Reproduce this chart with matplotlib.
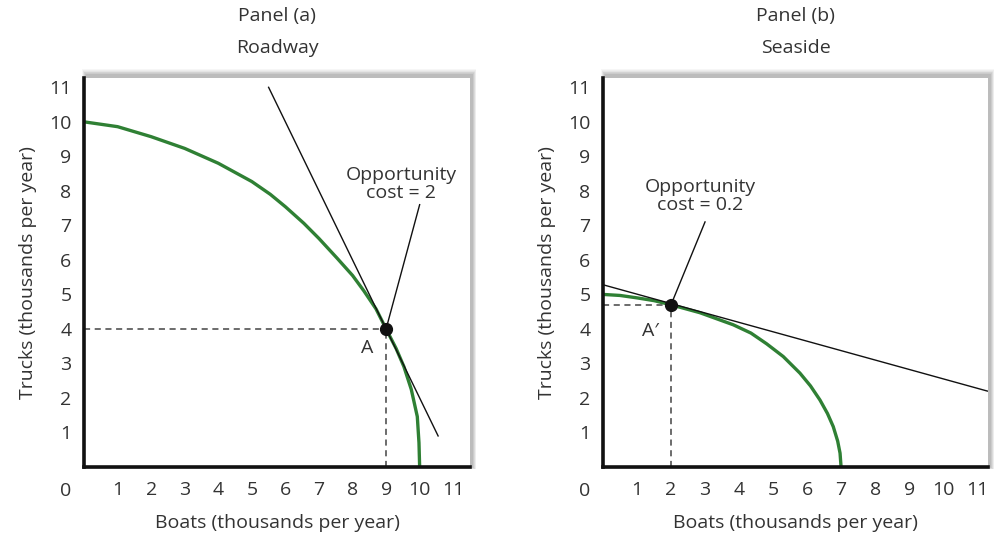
import matplotlib
matplotlib.use("Agg")
import matplotlib.pyplot as plt
from matplotlib.patches import Rectangle

plt.rcParams["font.family"] = ["Open Sans", "DejaVu Sans"]

# panel (a) Roadway
road_boats = [0, 1, 2, 3, 4, 5, 5.55, 6, 6.55, 7.0, 7.54, 8.0, 8.34, 8.7,
              9.0, 9.3, 9.53, 9.75, 9.93, 9.98, 10.0]
road_trucks = [10.0, 9.86, 9.57, 9.23, 8.8, 8.27, 7.9, 7.54, 7.06, 6.62,
               6.05, 5.55, 5.1, 4.58, 4.0, 3.43, 2.91, 2.25, 1.46, 0.7, 0]
road_tangent_x = [5.5, 10.55]
road_tangent_y = [11.0, 0.9]
road_point = (9, 4)

# panel (b) Seaside
sea_boats = [0, 0.5, 1, 1.5, 2, 2.85, 3.83, 4.35, 4.81, 5.3, 5.79, 6.1,
             6.38, 6.6, 6.77, 6.9, 6.97, 7.0]
sea_trucks = [5.0, 4.97, 4.9, 4.82, 4.7, 4.47, 4.12, 3.88, 3.57, 3.2, 2.72,
              2.35, 1.94, 1.55, 1.17, 0.75, 0.4, 0]
sea_tangent_x = [0, 11.3]
sea_tangent_y = [5.28, 2.2]
sea_point = (2, 4.7)

ticks = list(range(1, 12))
tick_labels = [str(t) for t in ticks]

green = "#2f8034"
txt = "#333333"
fs = 14

fig = plt.figure(figsize=(9.99, 5.37), dpi=100)
fig.patch.set_facecolor("white")

ax1 = fig.add_axes([84 / 999, 1 - 467 / 537, 386 / 999, 389 / 537])
ax2 = fig.add_axes([603 / 999, 1 - 467 / 537, 385 / 999, 389 / 537])


def shadow(ax):
    # soft drop shadow round the panel, as in the original
    x0, y0, w, h = ax.get_position().bounds
    px = 1 / 999
    py = 1 / 537
    for k in range(1, 9):
        r = Rectangle((x0 + 2 * px - k * px * 0.5, y0 - k * py * 0.3),
                      w + k * px, h + 3 * py + k * py,
                      transform=fig.transFigure, facecolor="#000000",
                      alpha=0.035, edgecolor="none", zorder=-5)
        fig.patches.append(r)


def setup(ax, xmax, ymax, title1, title2):
    ax.set_xlim(0, xmax)
    ax.set_ylim(0, ymax)
    ax.set_facecolor("white")
    for s in ["top", "right"]:
        ax.spines[s].set_visible(False)
    for s in ["left", "bottom"]:
        ax.spines[s].set_linewidth(2.6)
        ax.spines[s].set_color("#111111")
    ax.set_xticks(ticks)
    ax.set_xticklabels(tick_labels)
    ax.set_yticks(ticks)
    ax.set_yticklabels(tick_labels)
    ax.tick_params(length=0, labelsize=fs, labelcolor=txt)
    ax.tick_params(axis="x", pad=10)
    ax.tick_params(axis="y", pad=9)
    ax.text(-0.55, -0.7, "0", ha="center", va="center", fontsize=fs,
            color=txt, clip_on=False)
    ax.set_xlabel("Boats (thousands per year)", fontsize=fs, color=txt)
    ax.set_ylabel("Trucks (thousands per year)", fontsize=fs, color=txt)
    ax.xaxis.set_label_coords(0.5, -0.145)
    ax.xaxis.label.set_verticalalignment("center")
    ax.yaxis.set_label_coords(-0.145, 0.5)
    ax.yaxis.label.set_verticalalignment("center")
    ax.text(0.5, 1.16, title1, transform=ax.transAxes, ha="center",
            va="center", fontsize=fs, color=txt)
    ax.text(0.5, 1.077, title2, transform=ax.transAxes, ha="center",
            va="center", fontsize=fs, color=txt)
    shadow(ax)


setup(ax1, 11.5, 11.27, "Panel (a)", "Roadway")
setup(ax2, 11.32, 11.27, "Panel (b)", "Seaside")

# panel (a)
ax1.plot([0, road_point[0]], [road_point[1], road_point[1]], ls=(0, (4, 3)),
         color="#444444", lw=1.1)
ax1.plot([road_point[0], road_point[0]], [0, road_point[1]], ls=(0, (4, 3)),
         color="#444444", lw=1.1)
ax1.plot(road_boats, road_trucks, color=green, lw=2.4, solid_capstyle="butt",
         solid_joinstyle="round")
ax1.plot(road_tangent_x, road_tangent_y, color="#111111", lw=1.0)
ax1.plot([road_point[0], 10.0], [road_point[1], 7.6], color="#111111", lw=1.0)
ax1.plot(*road_point, "o", color="#111111", ms=8.5, zorder=5)
ax1.text(9.45, 8.2, "Opportunity\ncost = 2", ha="center", va="center",
         fontsize=fs, color=txt, linespacing=1.0)
ax1.text(8.45, 3.45, "A", ha="center", va="center", fontsize=fs, color=txt)

# panel (b)
ax2.plot([0, sea_point[0]], [sea_point[1], sea_point[1]], ls=(0, (4, 3)),
         color="#444444", lw=1.1)
ax2.plot([sea_point[0], sea_point[0]], [0, sea_point[1]], ls=(0, (4, 3)),
         color="#444444", lw=1.1)
ax2.plot(sea_boats, sea_trucks, color=green, lw=2.4, solid_capstyle="butt",
         solid_joinstyle="round")
ax2.plot(sea_tangent_x, sea_tangent_y, color="#111111", lw=1.0)
ax2.plot([sea_point[0], 3.0], [sea_point[1], 7.1], color="#111111", lw=1.0)
ax2.plot(*sea_point, "o", color="#111111", ms=8.5, zorder=5)
ax2.text(2.85, 7.85, "Opportunity\ncost = 0.2", ha="center", va="center",
         fontsize=fs, color=txt, linespacing=1.0)
ax2.text(1.4, 3.95, "A\u2032", ha="center", va="center", fontsize=fs,
         color=txt)

fig.savefig("out.png", dpi=100)
